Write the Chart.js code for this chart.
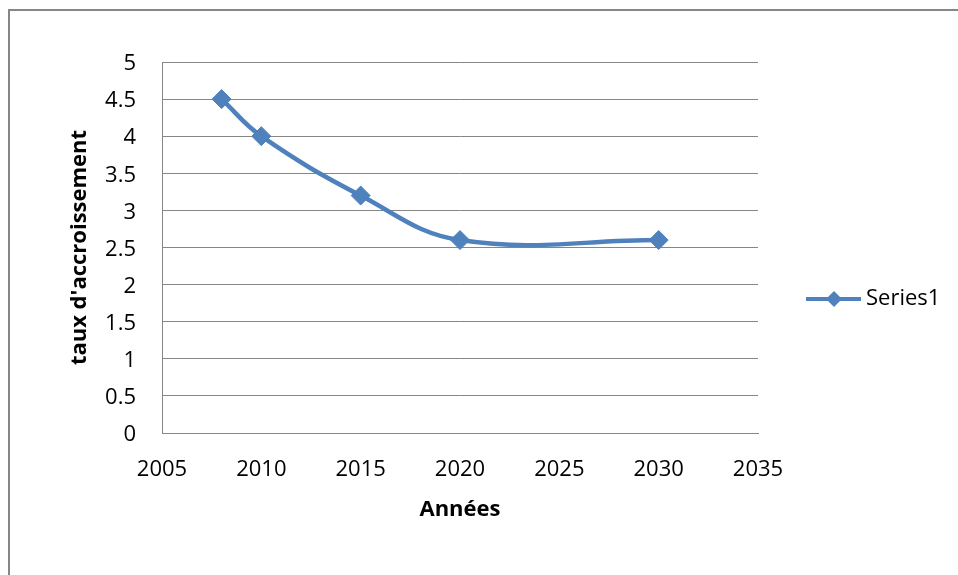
<!DOCTYPE html>
<html>
<head>
<meta charset="utf-8">
<script src="https://cdn.jsdelivr.net/npm/chart.js@4"></script>
<style>
  html, body { margin: 0; padding: 0; background: #fff; }
  #wrap { width: 958px; height: 575px; }
</style>
</head>
<body>
<div id="wrap"><canvas id="grafico" width="958" height="575"></canvas></div>
<script>
// donnees
const annees = [2008, 2010, 2015, 2020, 2030];
const taux = [4.5, 4.0, 3.2, 2.6, 2.6];
const nomSerie = "Series1";
const titreX = "Années";
const titreY = "taux d'accroissement";

const bleu = "#4F81BD";
const gris = "#868686";

Chart.defaults.font.family = "'Open Sans', sans-serif";
Chart.defaults.color = "#000";

// cadre gris en haut a gauche + fond blanc
const cadre = {
  id: "cadre",
  beforeDraw(chart) {
    const ctx = chart.ctx;
    ctx.save();
    ctx.fillStyle = "#fff";
    ctx.fillRect(0, 0, chart.width, chart.height);
    ctx.strokeStyle = gris;
    ctx.lineWidth = 2;
    ctx.strokeRect(9, 10, chart.width + 50, chart.height + 50);
    ctx.restore();
  }
};

// legende a la maniere d'Excel (trait + losange)
const legende = {
  id: "legende",
  afterDraw(chart) {
    const ctx = chart.ctx;
    const ds = chart.data.datasets[0];
    const y = 299;
    ctx.save();
    ctx.strokeStyle = ds.borderColor;
    ctx.lineWidth = 4;
    ctx.beginPath();
    ctx.moveTo(806, y);
    ctx.lineTo(861, y);
    ctx.stroke();
    ctx.fillStyle = ds.borderColor;
    ctx.beginPath();
    ctx.moveTo(834 - 8, y);
    ctx.lineTo(834, y - 8);
    ctx.lineTo(834 + 8, y);
    ctx.lineTo(834, y + 8);
    ctx.closePath();
    ctx.fill();
    ctx.fillStyle = "#000";
    ctx.font = "22px 'Open Sans', sans-serif";
    ctx.textBaseline = "middle";
    ctx.fillText(ds.label, 866, y);
    ctx.restore();
  }
};

const ctx = document.getElementById("grafico").getContext("2d");
new Chart(ctx, {
  type: "line",
  data: {
    datasets: [{
      label: nomSerie,
      data: annees.map((a, i) => ({ x: a, y: taux[i] })),
      borderColor: bleu,
      backgroundColor: bleu,
      borderWidth: 4.5,
      tension: 0.4,
      pointStyle: "rectRot",
      pointRadius: 9.5,
      pointBorderWidth: 1,
      pointBackgroundColor: bleu,
      pointBorderColor: bleu
    }]
  },
  options: {
    responsive: false,
    animation: false,
    layout: { padding: { left: 60, right: 200, top: 62, bottom: 50 } },
    plugins: {
      legend: { display: false },
      tooltip: { enabled: false }
    },
    scales: {
      x: {
        type: "linear",
        min: 2005,
        max: 2035,
        afterFit: (s) => { s.height = 92; },
        grid: { display: false, drawTicks: false },
        border: { display: true, color: gris, width: 1 },
        ticks: {
          stepSize: 5,
          padding: 24,
          font: { size: 22 },
          callback: (v) => String(v)
        },
        title: {
          display: true,
          text: titreX,
          font: { size: 22, weight: "bold" },
          padding: { top: 0, bottom: 2 }
        }
      },
      y: {
        min: 0,
        max: 5,
        afterFit: (s) => { s.width = 102; },
        grid: { color: gris, lineWidth: 1, drawTicks: false },
        border: { display: true, color: gris, width: 1 },
        ticks: {
          stepSize: 0.5,
          padding: 26,
          labelOffset: 2,
          font: { size: 22 },
          callback: (v) => String(v)
        },
        title: {
          display: true,
          text: titreY,
          font: { size: 22, weight: "bold" },
          padding: { top: 7, bottom: 0 }
        }
      }
    }
  },
  plugins: [cadre, legende]
});
</script>
</body>
</html>
